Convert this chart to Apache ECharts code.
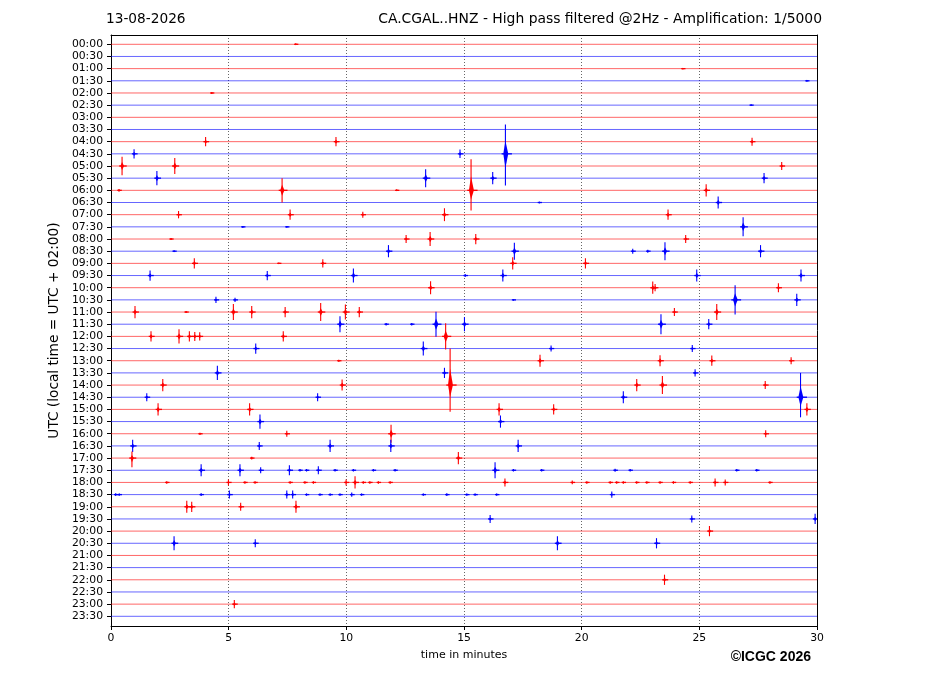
<!DOCTYPE html>
<html>
<head>
<meta charset="utf-8">
<script src="https://cdn.jsdelivr.net/npm/echarts@6/dist/echarts.min.js"></script>
<style>
html,body{margin:0;padding:0;background:#fff;}
#chart{width:927px;height:696px;}
</style>
</head>
<body>
<div id="chart"></div>
<script>
// ---- tick labels (one per 30-minute trace row) ----
const tickLabels = ['00:00','00:30','01:00','01:30','02:00','02:30','03:00','03:30','04:00','04:30',
  '05:00','05:30','06:00','06:30','07:00','07:30','08:00','08:30','09:00','09:30',
  '10:00','10:30','11:00','11:30','12:00','12:30','13:00','13:30','14:00','14:30',
  '15:00','15:30','16:00','16:30','17:00','17:30','18:00','18:30','19:00','19:30',
  '20:00','20:30','21:00','21:30','22:00','22:30','23:00','23:30'];
const rows = tickLabels.map((_, i) => i);
const xTicks = [0, 5, 10, 15, 20, 25, 30];
const traceSpan = [0, 30]; // minutes covered by each row

// ---- seismic events: [row, minute, amplitude up, amplitude down] (amplitudes in row units) ----
const events = [
  [0,7.85,0.06,0.06],[2,24.3,0.06,0.06],[3,29.57,0.06,0.06],[4,4.28,0.06,0.06],[5,27.2,0.05,0.05],
  [8,4.02,0.38,0.38],[8,9.56,0.38,0.38],[8,27.24,0.33,0.33],
  [9,0.98,0.38,0.38],[9,14.83,0.35,0.35],[9,16.76,2.4,2.6],
  [10,0.47,0.75,0.75],[10,2.71,0.66,0.66],[10,28.5,0.33,0.33],
  [11,1.95,0.58,0.58],[11,13.37,0.74,0.74],[11,16.22,0.5,0.5],[11,27.75,0.42,0.42],
  [12,0.34,0.12,0.12],[12,7.27,1.0,1.0],[12,12.14,0.06,0.06],[12,15.30,2.55,1.65],[12,25.29,0.5,0.5],
  [13,18.2,0.06,0.06],[13,25.8,0.5,0.5],
  [14,2.87,0.3,0.3],[14,7.61,0.42,0.42],[14,10.7,0.25,0.25],[14,14.17,0.53,0.53],[14,23.67,0.42,0.42],
  [15,5.6,0.08,0.08],[15,7.47,0.06,0.06],[15,26.86,0.78,0.78],
  [16,2.55,0.06,0.06],[16,12.54,0.33,0.33],[16,13.56,0.58,0.58],[16,15.5,0.42,0.42],[16,24.42,0.33,0.33],
  [17,2.68,0.06,0.06],[17,11.79,0.5,0.5],[17,17.14,0.7,0.7],[17,22.17,0.2,0.2],[17,22.81,0.12,0.12],[17,23.54,0.74,0.74],[17,27.6,0.5,0.5],
  [18,3.54,0.42,0.42],[18,7.13,0.06,0.06],[18,9.0,0.33,0.33],[18,17.07,0.5,0.5],[18,20.16,0.42,0.42],
  [19,1.66,0.42,0.42],[19,6.64,0.38,0.38],[19,10.3,0.58,0.58],[19,15.05,0.12,0.12],[19,16.65,0.5,0.5],[19,24.89,0.5,0.5],[19,29.32,0.5,0.5],
  [20,13.58,0.53,0.53],[20,23.02,0.5,0.5],[20,23.12,0.3,0.3],[20,28.36,0.37,0.37],
  [21,4.46,0.25,0.25],[21,5.27,0.17,0.17],[21,17.1,0.05,0.05],[21,26.52,1.2,1.2],[21,29.14,0.5,0.5],
  [22,1.02,0.5,0.5],[22,3.19,0.08,0.08],[22,5.2,0.66,0.66],[22,5.98,0.5,0.5],[22,7.4,0.42,0.42],[22,8.91,0.74,0.74],[22,9.96,0.62,0.62],[22,10.55,0.42,0.42],[22,23.94,0.33,0.33],[22,25.74,0.66,0.66],
  [23,9.73,0.66,0.66],[23,11.69,0.1,0.1],[23,12.78,0.1,0.1],[23,13.81,1.03,1.03],[23,15.02,0.58,0.58],[23,23.37,0.82,0.82],[23,25.4,0.42,0.42],
  [24,1.7,0.42,0.42],[24,2.89,0.58,0.58],[24,3.33,0.42,0.42],[24,3.56,0.37,0.37],[24,3.77,0.33,0.33],[24,7.32,0.42,0.42],[24,14.22,1.07,1.07],
  [25,6.15,0.42,0.42],[25,13.27,0.58,0.58],[25,18.7,0.25,0.25],[25,24.7,0.29,0.29],
  [26,9.68,0.08,0.08],[26,18.23,0.5,0.5],[26,23.33,0.45,0.45],[26,25.53,0.42,0.42],[26,28.9,0.29,0.29],
  [27,4.52,0.58,0.58],[27,14.17,0.42,0.42],[27,24.82,0.29,0.29],
  [28,2.2,0.5,0.5],[28,9.82,0.45,0.45],[28,14.41,3.0,2.2],[28,22.34,0.5,0.5],[28,23.43,0.74,0.74],[28,27.8,0.33,0.33],
  [29,1.52,0.33,0.33],[29,8.78,0.33,0.33],[29,21.77,0.5,0.5],[29,29.3,2.0,1.65],
  [30,2.0,0.5,0.5],[30,5.89,0.5,0.5],[30,16.49,0.5,0.5],[30,18.81,0.42,0.42],[30,29.57,0.5,0.5],
  [31,6.33,0.58,0.58],[31,16.55,0.5,0.5],
  [32,3.78,0.08,0.08],[32,7.47,0.25,0.25],[32,11.9,0.74,0.74],[32,27.82,0.29,0.29],
  [33,0.92,0.5,0.5],[33,6.3,0.33,0.33],[33,9.31,0.5,0.5],[33,11.89,0.5,0.5],[33,17.3,0.5,0.5],
  [34,0.89,0.55,0.75],[34,5.98,0.12,0.12],[34,14.76,0.5,0.5],
  [35,3.83,0.5,0.5],[35,5.48,0.5,0.5],[35,6.36,0.25,0.25],[35,7.58,0.42,0.42],[35,8.81,0.33,0.33],[35,16.32,0.66,0.66],
  [35,8.03,0.1,0.1],[35,8.31,0.1,0.1],[35,9.52,0.1,0.1],[35,10.3,0.1,0.1],[35,11.15,0.1,0.1],[35,12.07,0.1,0.1],
  [35,17.1,0.1,0.1],[35,18.3,0.1,0.1],[35,21.42,0.12,0.12],[35,22.06,0.1,0.1],[35,26.59,0.1,0.1],[35,27.44,0.1,0.1],
  [36,4.99,0.25,0.25],[36,9.99,0.25,0.25],[36,10.37,0.5,0.5],[36,16.74,0.33,0.33],[36,19.6,0.15,0.15],[36,25.67,0.33,0.33],[36,26.1,0.25,0.25],
  [36,2.37,0.1,0.1],[36,5.69,0.1,0.1],[36,6.12,0.1,0.1],[36,7.61,0.1,0.1],[36,8.24,0.1,0.1],[36,8.6,0.1,0.1],[36,10.72,0.1,0.1],
  [36,11.0,0.1,0.1],[36,11.36,0.1,0.1],[36,11.86,0.1,0.1],[36,20.22,0.1,0.1],[36,21.21,0.1,0.1],[36,21.49,0.1,0.1],[36,21.77,0.1,0.1],
  [36,22.34,0.1,0.1],[36,22.77,0.1,0.1],[36,23.33,0.1,0.1],[36,23.9,0.1,0.1],[36,24.61,0.1,0.1],[36,28.0,0.1,0.1],
  [37,0.2,0.12,0.12],[37,0.35,0.1,0.1],[37,3.83,0.12,0.12],[37,5.03,0.33,0.33],[37,7.47,0.33,0.33],[37,7.72,0.33,0.33],[37,10.23,0.17,0.17],
  [37,14.27,0.12,0.12],[37,21.28,0.25,0.25],[37,8.31,0.1,0.1],[37,8.88,0.1,0.1],[37,9.31,0.1,0.1],[37,9.73,0.1,0.1],[37,10.65,0.1,0.1],
  [37,13.27,0.1,0.1],[37,15.12,0.1,0.1],[37,15.47,0.1,0.1],[37,16.39,0.1,0.1],
  [38,3.22,0.5,0.5],[38,3.43,0.42,0.42],[38,5.51,0.33,0.33],[38,7.86,0.5,0.5],
  [39,16.11,0.33,0.33],[39,24.68,0.29,0.29],[39,29.92,0.42,0.42],
  [40,25.43,0.42,0.42],
  [41,2.68,0.58,0.58],[41,6.13,0.33,0.33],[41,18.97,0.58,0.58],[41,23.18,0.42,0.42],
  [44,23.52,0.42,0.42],
  [46,5.24,0.33,0.33]
];

const RED = '#ff0000', BLUE = '#0000ff';
const RED_LINE = 'rgba(255,0,0,0.6)', BLUE_LINE = 'rgba(0,0,255,0.6)';
const FONT = 'DejaVu Sans';

const chart = echarts.init(document.getElementById('chart'), null, {renderer: 'canvas'});

function baselineItem(params, api) {
  const row = api.value(0);
  const p0 = api.coord([traceSpan[0], row]);
  const p1 = api.coord([traceSpan[1], row]);
  return {
    type: 'line',
    shape: {x1: p0[0], y1: p0[1], x2: p1[0], y2: p1[1]},
    style: {stroke: row % 2 === 0 ? RED_LINE : BLUE_LINE, lineWidth: 1}
  };
}

function eventItem(params, api) {
  const row = api.value(0), t = api.value(1), up = api.value(2), dn = api.value(3);
  const c = row % 2 === 0 ? RED : BLUE;
  const amp = (up + dn) / 2;
  const pTop = api.coord([t, row - up]);
  const pBot = api.coord([t, row + dn]);
  const hwL = Math.min(0.09, 0.035 + 0.045 * amp);
  const hwR = Math.min(0.12, 0.045 + 0.055 * amp);
  const coreUp = Math.max(0.08, up * 0.45), coreDn = Math.max(0.08, dn * 0.45);
  const pts = [
    api.coord([t - hwL, row]),
    api.coord([t, row - coreUp]),
    api.coord([t + hwR, row]),
    api.coord([t, row + coreDn])
  ];
  const tailA = api.coord([t - hwL * 1.8, row]);
  const tailB = api.coord([t + hwR * 2.3, row]);
  return {
    type: 'group',
    children: [
      {type: 'line', shape: {x1: pTop[0], y1: pTop[1], x2: pBot[0], y2: pBot[1]},
        style: {stroke: c, lineWidth: 1.1}},
      {type: 'polygon', shape: {points: pts}, style: {fill: c}},
      {type: 'line', shape: {x1: tailA[0], y1: tailA[1], x2: tailB[0], y2: tailB[1]},
        style: {stroke: c, lineWidth: 1.3}}
    ]
  };
}

const option = {
  backgroundColor: '#fff',
  animation: false,
  grid: {left: 111, right: 110, top: 35, bottom: 70, containLabel: false},
  xAxis: [{
    type: 'value', min: 0, max: 30, interval: 5,
    axisLine: {show: true, onZero: false, lineStyle: {color: '#000', width: 1}},
    axisTick: {show: true, length: 4, lineStyle: {color: '#000'}},
    axisLabel: {color: '#000', fontSize: 10.8, fontFamily: FONT, margin: 7,
      formatter: v => xTicks.includes(v) ? String(v) : ''},
    splitLine: {show: true, lineStyle: {color: '#555', type: [1, 2], width: 0.9}},
    name: 'time in minutes', nameLocation: 'middle', nameGap: 24,
    nameTextStyle: {color: '#000', fontSize: 11, fontFamily: FONT}
  }, {
    type: 'value', position: 'top', min: 0, max: 30,
    axisLine: {show: true, onZero: false, lineStyle: {color: '#000', width: 1}},
    axisTick: {show: false}, axisLabel: {show: false}, splitLine: {show: false}
  }],
  yAxis: [{
    type: 'value', inverse: true, min: -0.764, max: 47.797,
    axisLine: {show: true, onZero: false, lineStyle: {color: '#000', width: 1}},
    axisTick: {show: true, length: 4, customValues: rows, lineStyle: {color: '#000'}},
    axisLabel: {color: '#000', fontSize: 10.8, fontFamily: FONT, margin: 8,
      customValues: rows, formatter: v => tickLabels[Math.round(v)] || ''},
    splitLine: {show: false},
    name: 'UTC (local time = UTC + 02:00)', nameLocation: 'middle', nameGap: 47,
    nameTextStyle: {color: '#000', fontSize: 13.7, fontFamily: FONT}
  }, {
    type: 'value', position: 'right', inverse: true, min: -0.764, max: 47.797,
    axisLine: {show: true, onZero: false, lineStyle: {color: '#000', width: 1}},
    axisTick: {show: false}, axisLabel: {show: false}, splitLine: {show: false}
  }],
  graphic: [
    {type: 'text', left: 106, top: 12,
      style: {text: '13-08-2026', fill: '#000', font: '13.7px "DejaVu Sans"'}},
    {type: 'text', right: 105, top: 12,
      style: {text: 'CA.CGAL..HNZ - High pass filtered @2Hz - Amplification: 1/5000', fill: '#000', font: '13.9px "DejaVu Sans"'}},
    {type: 'text', right: 116, top: 650,
      style: {text: '©ICGC 2026', fill: '#000', font: 'bold 14px "Liberation Sans"'}}
  ],
  series: [{
    type: 'custom', name: 'traces', xAxisIndex: 0, yAxisIndex: 0,
    data: rows.map(r => [r]), renderItem: baselineItem, clip: true, silent: true,
    encode: {y: 0}
  }, {
    type: 'custom', name: 'events', xAxisIndex: 0, yAxisIndex: 0,
    data: events, renderItem: eventItem, clip: true, silent: true,
    encode: {x: 1, y: 0}
  }]
};
chart.setOption(option);
</script>
</body>
</html>
